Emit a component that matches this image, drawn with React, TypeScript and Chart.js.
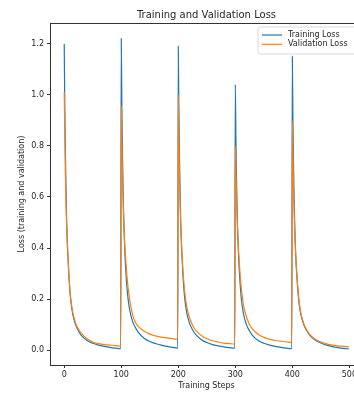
import React, { useEffect, useRef } from "react";
import { Chart, registerables } from "chart.js";

Chart.register(...registerables);

// ---- data ----
const cycleStarts = [0, 100, 200, 300, 400];
const stepOffsets = [0, 1, 2, 3, 4, 5, 6, 8, 10, 12, 15, 20, 25, 30, 40, 50, 60, 70, 80, 90, 99];

const trainingLoss = [
  [1.2, 0.95, 0.78, 0.64, 0.53, 0.45, 0.39, 0.3, 0.23, 0.185, 0.14, 0.1, 0.075, 0.058, 0.038, 0.027, 0.02, 0.015, 0.011, 0.008, 0.006],
  [1.22, 0.97, 0.8, 0.66, 0.55, 0.47, 0.4, 0.31, 0.245, 0.2, 0.155, 0.112, 0.088, 0.07, 0.047, 0.034, 0.026, 0.02, 0.015, 0.011, 0.008],
  [1.19, 0.95, 0.78, 0.64, 0.53, 0.45, 0.39, 0.3, 0.235, 0.19, 0.145, 0.104, 0.08, 0.063, 0.042, 0.03, 0.022, 0.017, 0.013, 0.01, 0.008],
  [1.04, 0.84, 0.69, 0.57, 0.48, 0.41, 0.355, 0.275, 0.215, 0.175, 0.135, 0.097, 0.075, 0.058, 0.038, 0.027, 0.02, 0.015, 0.011, 0.008, 0.006],
  [1.15, 0.91, 0.74, 0.61, 0.51, 0.43, 0.37, 0.29, 0.225, 0.18, 0.14, 0.1, 0.077, 0.06, 0.04, 0.028, 0.02, 0.014, 0.01, 0.007, 0.005],
];

const validationLoss = [
  [1.01, 0.85, 0.7, 0.59, 0.5, 0.44, 0.39, 0.305, 0.235, 0.19, 0.148, 0.106, 0.082, 0.066, 0.045, 0.032, 0.026, 0.022, 0.02, 0.018, 0.016],
  [0.96, 0.83, 0.71, 0.61, 0.53, 0.47, 0.42, 0.35, 0.29, 0.245, 0.195, 0.138, 0.108, 0.092, 0.075, 0.063, 0.056, 0.051, 0.048, 0.045, 0.043],
  [1.0, 0.85, 0.71, 0.6, 0.51, 0.45, 0.4, 0.32, 0.26, 0.215, 0.17, 0.125, 0.098, 0.08, 0.058, 0.045, 0.037, 0.032, 0.028, 0.026, 0.024],
  [0.8, 0.7, 0.61, 0.53, 0.47, 0.42, 0.38, 0.31, 0.255, 0.215, 0.17, 0.128, 0.1, 0.083, 0.062, 0.05, 0.043, 0.038, 0.035, 0.032, 0.03],
  [0.9, 0.77, 0.65, 0.56, 0.48, 0.42, 0.37, 0.295, 0.235, 0.19, 0.145, 0.105, 0.08, 0.063, 0.043, 0.032, 0.025, 0.02, 0.017, 0.015, 0.013],
];

const xTicks = [0, 100, 200, 300, 400, 500];
const yTicks = [0, 0.2, 0.4, 0.6, 0.8, 1.0, 1.2];
const seriesLabels = ["Training Loss", "Validation Loss"];
const seriesColors = ["#1f77b4", "#ff7f0e"];
const chartTitle = "Training and Validation Loss";
const xTitle = "Training Steps";
const yTitle = "Loss (training and validation)";

const FONT = "'DejaVu Sans', sans-serif";
const TEXT = "#262626";

function toPoints(cycles: number[][]) {
  const pts: { x: number; y: number }[] = [];
  cycles.forEach((vals, i) => {
    vals.forEach((v, j) => pts.push({ x: cycleStarts[i] + stepOffsets[j], y: v }));
  });
  return pts;
}

const framePlugin = {
  id: "frameAndLegend",
  afterDatasetsDraw(chart: any) {
    const { ctx, chartArea: a } = chart;
    ctx.save();
    // axes frame
    ctx.strokeStyle = "#333";
    ctx.lineWidth = 1;
    ctx.strokeRect(Math.round(a.left) + 0.5, Math.round(a.top) + 0.5, Math.round(a.right - a.left), Math.round(a.bottom - a.top));

    // legend
    const lx = a.left + 208;
    const ly = a.top + 4;
    const lw = 101;
    const lh = 27;
    const r = 2;
    ctx.beginPath();
    ctx.moveTo(lx + r, ly);
    ctx.lineTo(lx + lw - r, ly);
    ctx.quadraticCurveTo(lx + lw, ly, lx + lw, ly + r);
    ctx.lineTo(lx + lw, ly + lh - r);
    ctx.quadraticCurveTo(lx + lw, ly + lh, lx + lw - r, ly + lh);
    ctx.lineTo(lx + r, ly + lh);
    ctx.quadraticCurveTo(lx, ly + lh, lx, ly + lh - r);
    ctx.lineTo(lx, ly + r);
    ctx.quadraticCurveTo(lx, ly, lx + r, ly);
    ctx.closePath();
    ctx.fillStyle = "rgba(255,255,255,0.8)";
    ctx.fill();
    ctx.strokeStyle = "#d0d0d0";
    ctx.lineWidth = 0.8;
    ctx.stroke();

    ctx.font = `8px ${FONT}`;
    ctx.textBaseline = "middle";
    ctx.textAlign = "left";
    seriesLabels.forEach((label, i) => {
      const y = ly + 8 + i * 9.3;
      ctx.strokeStyle = seriesColors[i];
      ctx.lineWidth = 1.2;
      ctx.beginPath();
      ctx.moveTo(lx + 4, y);
      ctx.lineTo(lx + 24, y);
      ctx.stroke();
      ctx.fillStyle = TEXT;
      ctx.fillText(label, lx + 30, y);
    });
    ctx.restore();
  },
};

export default function App() {
  const ref = useRef<HTMLCanvasElement | null>(null);

  useEffect(() => {
    if (!ref.current) return;
    const chart = new Chart(ref.current, {
      type: "line",
      data: {
        datasets: [
          {
            label: seriesLabels[0],
            data: toPoints(trainingLoss),
            borderColor: seriesColors[0],
            backgroundColor: seriesColors[0],
            borderWidth: 1.2,
            pointRadius: 0,
            cubicInterpolationMode: "monotone",
            order: 1,
          },
          {
            label: seriesLabels[1],
            data: toPoints(validationLoss),
            borderColor: seriesColors[1],
            backgroundColor: seriesColors[1],
            borderWidth: 1.2,
            pointRadius: 0,
            cubicInterpolationMode: "monotone",
            order: 0,
          },
        ],
      },
      options: {
        responsive: false,
        animation: false,
        events: [],
        layout: { padding: { left: 0, top: 0, right: 17, bottom: 0 } },
        plugins: {
          legend: { display: false },
          tooltip: { enabled: false },
          title: {
            display: true,
            text: chartTitle,
            fullSize: false,
            color: TEXT,
            font: { family: FONT, size: 10, weight: "normal", lineHeight: 1.2 },
            padding: { top: 9, bottom: 2 },
          },
        },
        scales: {
          x: {
            type: "linear",
            min: -24.95,
            max: 523.95,
            afterBuildTicks: (s: any) => {
              s.ticks = xTicks.map((v) => ({ value: v }));
            },
            afterFit: (s: any) => {
              s.height = 29;
            },
            border: { display: false },
            grid: { drawOnChartArea: false, drawTicks: true, tickLength: 3, tickColor: "#333" },
            ticks: {
              color: TEXT,
              padding: 2,
              maxRotation: 0,
              autoSkip: false,
              font: { family: FONT, size: 8 },
              callback: (v: any) => String(v),
            },
            title: {
              display: true,
              text: xTitle,
              color: TEXT,
              font: { family: FONT, size: 8 },
              padding: { top: 0, bottom: 3.5 },
            },
          },
          y: {
            type: "linear",
            min: -0.058,
            max: 1.281,
            afterBuildTicks: (s: any) => {
              s.ticks = yTicks.map((v) => ({ value: v }));
            },
            afterFit: (s: any) => {
              s.width = 50;
            },
            border: { display: false },
            grid: { drawOnChartArea: false, drawTicks: true, tickLength: 3, tickColor: "#333" },
            ticks: {
              color: TEXT,
              padding: 3,
              autoSkip: false,
              font: { family: FONT, size: 8 },
              callback: (v: any) => Number(v).toFixed(1),
            },
            title: {
              display: true,
              text: yTitle,
              color: TEXT,
              font: { family: FONT, size: 8 },
              padding: { top: 17, bottom: 0 },
            },
          },
        },
      },
      plugins: [framePlugin],
    } as any);
    return () => chart.destroy();
  }, []);

  return (
    <div
      style={{
        position: "fixed",
        left: 0,
        top: 0,
        width: 354,
        height: 394,
        overflow: "hidden",
        background: "#fff",
      }}
    >
      <canvas ref={ref} width={380} height={394} style={{ display: "block", width: 380, height: 394 }} />
    </div>
  );
}
